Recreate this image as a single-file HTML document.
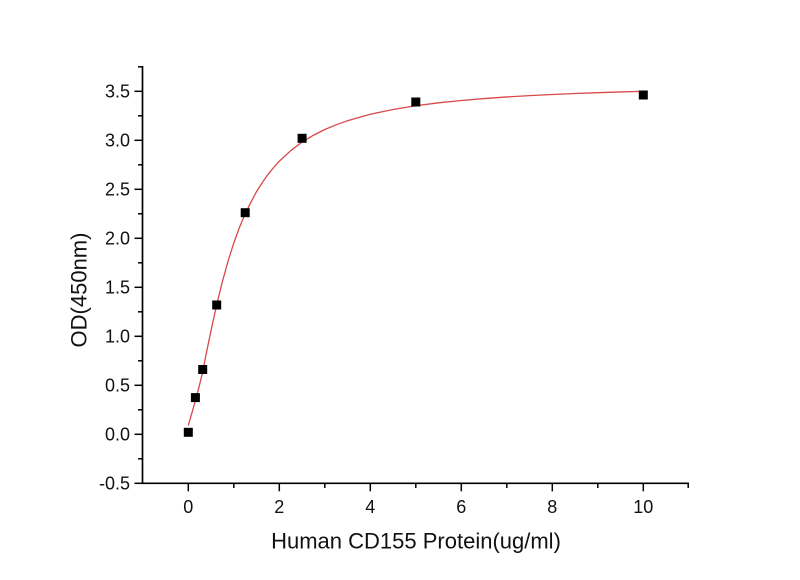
<!DOCTYPE html>
<html>
<head>
<meta charset="utf-8">
<style>
  html, body { margin: 0; padding: 0; background: #ffffff; }
  svg { display: block; }
  text { font-family: "Liberation Sans", Arial, sans-serif; fill: #111; }
</style>
</head>
<body>
<svg width="800" height="580" viewBox="0 0 800 580" xmlns="http://www.w3.org/2000/svg">
  <rect x="0" y="0" width="800" height="580" fill="#ffffff"/>

  <!-- Axes -->
  <path d="M142.5,66 V483.3 H689" fill="none" stroke="#000" stroke-width="1.7"/>

  <!-- Y ticks: major -->
  <g stroke="#000" stroke-width="1.5">
    <line x1="134.5" y1="483.3" x2="142.5" y2="483.3"/>
    <line x1="134.5" y1="434.3" x2="142.5" y2="434.3"/>
    <line x1="134.5" y1="385.3" x2="142.5" y2="385.3"/>
    <line x1="134.5" y1="336.3" x2="142.5" y2="336.3"/>
    <line x1="134.5" y1="287.3" x2="142.5" y2="287.3"/>
    <line x1="134.5" y1="238.3" x2="142.5" y2="238.3"/>
    <line x1="134.5" y1="189.3" x2="142.5" y2="189.3"/>
    <line x1="134.5" y1="140.3" x2="142.5" y2="140.3"/>
    <line x1="134.5" y1="91.3" x2="142.5" y2="91.3"/>
    <!-- minor -->
    <line x1="138" y1="458.8" x2="142.5" y2="458.8"/>
    <line x1="138" y1="409.8" x2="142.5" y2="409.8"/>
    <line x1="138" y1="360.8" x2="142.5" y2="360.8"/>
    <line x1="138" y1="311.8" x2="142.5" y2="311.8"/>
    <line x1="138" y1="262.8" x2="142.5" y2="262.8"/>
    <line x1="138" y1="213.8" x2="142.5" y2="213.8"/>
    <line x1="138" y1="164.8" x2="142.5" y2="164.8"/>
    <line x1="138" y1="115.8" x2="142.5" y2="115.8"/>
    <line x1="138" y1="66.8" x2="142.5" y2="66.8"/>
  </g>

  <!-- X ticks -->
  <g stroke="#000" stroke-width="1.5">
    <line x1="188.3" y1="483.3" x2="188.3" y2="491.3"/>
    <line x1="279.3" y1="483.3" x2="279.3" y2="491.3"/>
    <line x1="370.3" y1="483.3" x2="370.3" y2="491.3"/>
    <line x1="461.3" y1="483.3" x2="461.3" y2="491.3"/>
    <line x1="552.3" y1="483.3" x2="552.3" y2="491.3"/>
    <line x1="643.3" y1="483.3" x2="643.3" y2="491.3"/>
    <!-- minor -->
    <line x1="233.8" y1="483.3" x2="233.8" y2="488"/>
    <line x1="324.8" y1="483.3" x2="324.8" y2="488"/>
    <line x1="415.8" y1="483.3" x2="415.8" y2="488"/>
    <line x1="506.8" y1="483.3" x2="506.8" y2="488"/>
    <line x1="597.8" y1="483.3" x2="597.8" y2="488"/>
    <line x1="688.2" y1="483.3" x2="688.2" y2="488"/>
  </g>

  <!-- Y tick labels -->
  <g font-size="18" text-anchor="end">
    <text x="130" y="489.5">-0.5</text>
    <text x="130" y="440.5">0.0</text>
    <text x="130" y="391.5">0.5</text>
    <text x="130" y="342.5">1.0</text>
    <text x="130" y="293.5">1.5</text>
    <text x="130" y="244.5">2.0</text>
    <text x="130" y="195.5">2.5</text>
    <text x="130" y="146.5">3.0</text>
    <text x="130" y="97.5">3.5</text>
  </g>

  <!-- X tick labels -->
  <g font-size="18" text-anchor="middle">
    <text x="188.3" y="512.8">0</text>
    <text x="279.3" y="512.8">2</text>
    <text x="370.3" y="512.8">4</text>
    <text x="461.3" y="512.8">6</text>
    <text x="552.3" y="512.8">8</text>
    <text x="643.3" y="512.8">10</text>
  </g>

  <!-- Axis titles -->
  <text x="416" y="548.5" font-size="22" text-anchor="middle">Human CD155 Protein(ug/ml)</text>
  <text x="86.5" y="290" font-size="22" text-anchor="middle" transform="rotate(-90 86.5 290)">OD(450nm)</text>

  <!-- Fit curve -->
  <path fill="none" stroke="#d94848" stroke-width="1.3" stroke-linejoin="round" d="
    M188.3,425.5
    C193.03,408.46 197.77,393.7 202.52,372.4
    L206.5,352.52 L211.05,330.40 L216.74,304.55 L222.43,281.39 L228.11,260.90
    L233.8,242.97 L239.49,227.38 L245.18,213.8 L250.87,202.3 L256.55,191.59
    L262.24,182.6 L267.93,174.53 L273.62,167.5 L279.3,161.23 L290.68,150.67
    L302.05,142.16 L313.43,135.24 L324.8,129.50 L336.2,124.8 L347.55,120.69
    L370.3,114.27 L393.05,109.47 L415.8,105.76 L438.55,102.83 L461.3,100.48
    L484.05,98.55 L506.8,96.96 L529.55,95.63 L552.3,94.50 L575.05,93.53
    L597.8,92.68 L620.55,91.95 L643.3,91.31" />

  <!-- Data markers (9x9 squares) -->
  <g fill="#000">
    <rect x="183.8" y="427.8" width="9" height="9"/>
    <rect x="190.9" y="393.1" width="9" height="9"/>
    <rect x="198.2" y="365.0" width="9" height="9"/>
    <rect x="212.2" y="300.5" width="9" height="9"/>
    <rect x="240.7" y="208.2" width="9" height="9"/>
    <rect x="297.6" y="133.8" width="9" height="9"/>
    <rect x="411.3" y="97.5" width="9" height="9"/>
    <rect x="638.8" y="90.5" width="9" height="9"/>
  </g>
</svg>
</body>
</html>
